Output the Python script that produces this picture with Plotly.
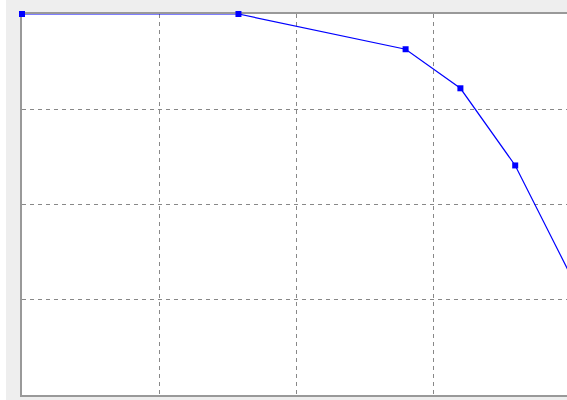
import plotly.graph_objects as go

x_vals = [0.0, 1.58, 2.80, 3.20, 3.60, 4.00]
y_vals = [4.0, 4.0, 3.63, 3.22, 2.41, 1.27]

x_range = [0, 545 / 137]
y_range = [0, 4]

fig = go.Figure()
fig.add_trace(go.Scatter(
    x=x_vals, y=y_vals, mode="lines",
    line=dict(color="#0000ff", width=1.2),
    cliponaxis=True, showlegend=False,
))
fig.add_trace(go.Scatter(
    x=x_vals, y=y_vals, mode="markers",
    marker=dict(symbol="square", size=6, color="#0000ff"),
    cliponaxis=False, showlegend=False, xaxis="x2", yaxis="y2",
))

grid = dict(showgrid=True, gridcolor="#888888", griddash="4px,4px", gridwidth=1,
            zeroline=False, showticklabels=False, ticks="", layer="above traces")
fig.update_layout(
    xaxis=dict(range=x_range, dtick=1, tick0=0, showline=True, domain=[0, 1],
               linecolor="#999999", linewidth=2, mirror=True, **grid),
    yaxis=dict(range=y_range, dtick=1, tick0=0, showline=True, domain=[0, 1],
               linecolor="#999999", linewidth=2, mirror=False, **grid),
    xaxis2=dict(range=x_range, domain=[0, 1], anchor="y2", visible=False, showgrid=False),
    yaxis2=dict(range=y_range, domain=[0, 1], anchor="x2", visible=False, showgrid=False),
    width=567, height=400,
    margin=dict(l=22, r=0, t=14, b=5),
    paper_bgcolor="#eeeeee", plot_bgcolor="rgba(0,0,0,0)",
    shapes=[dict(type="rect", xref="paper", yref="paper",
                 x0=-22 / 545, x1=-16 / 545, y0=-5 / 381, y1=1 + 14 / 381,
                 fillcolor="#ffffff", line=dict(width=0), layer="below"),
            dict(type="rect", xref="paper", yref="paper",
                 x0=0, x1=1, y0=0, y1=1,
                 fillcolor="#ffffff", line=dict(width=0), layer="below")],
)
fig.write_html(
    "out.html",
    config={"displayModeBar": False},
    post_script="document.body.style.margin='0';document.body.style.overflow='hidden';",
)
